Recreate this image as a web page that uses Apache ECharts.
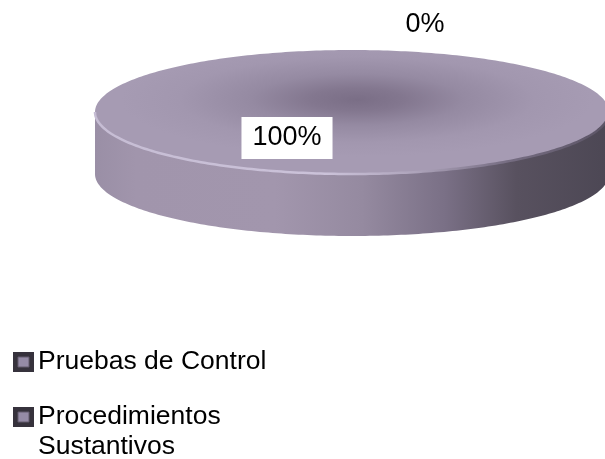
<!DOCTYPE html>
<html>
<head>
<meta charset="utf-8">
<script src="https://cdn.jsdelivr.net/npm/echarts@6/dist/echarts.min.js"></script>
<style>
  html, body { margin: 0; padding: 0; background: #ffffff; }
  #chart { width: 605px; height: 459px; }
</style>
</head>
<body>
<div id="chart"></div>
<script>
// Slice names and their values
const categories = ['Pruebas de Control', 'Procedimientos Sustantivos'];
const values = [100, 0];

// Layout of the tilted (3D-looking) pie
const PIE = { cx: 352, cy: 112, rx: 257, ry: 62, depth: 62 };
// Where each percentage label sits, relative to the pie centre
const LABEL_OFFSET = [[-65, 26], [73, -87.5]];
// Legend rows: top edge of each marker
const LEGEND_X = 13;
const LEGEND_TOP = [352, 407];
const FONT = '"Liberation Sans", Arial, sans-serif';

const total = values.reduce((a, b) => a + b, 0);

function ellipsePoint(t, dy) {
  return [PIE.cx + PIE.rx * Math.sin(t), PIE.cy - PIE.ry * Math.cos(t) + (dy || 0)];
}

function arcPoints(a0, a1, dy) {
  const pts = [];
  const n = Math.max(2, Math.ceil((a1 - a0) / (Math.PI / 180)));
  for (let k = 0; k <= n; k++) pts.push(ellipsePoint(a0 + (a1 - a0) * k / n, dy));
  return pts;
}

function renderSlice(params, api) {
  const i = params.dataIndex;
  const v = api.value(0);
  let before = 0;
  for (let k = 0; k < i; k++) before += values[k];
  const start = before / total * Math.PI * 2;
  const end = (before + v) / total * Math.PI * 2;
  const children = [];

  if (end > start) {
    // Front wall: only the part of the rim facing the viewer
    const s0 = Math.max(start, Math.PI / 2);
    const s1 = Math.min(end, Math.PI * 3 / 2);
    if (s1 > s0) {
      const topEdge = arcPoints(s0, s1, 0);
      const bottomEdge = arcPoints(s0, s1, PIE.depth).reverse();
      children.push({
        type: 'polygon',
        shape: { points: topEdge.concat(bottomEdge) },
        style: {
          fill: new echarts.graphic.LinearGradient(0, 0, 1, 0, [
            { offset: 0, color: '#9a8fa6' },
            { offset: 0.08, color: '#a195ac' },
            { offset: 0.35, color: '#a296ad' },
            { offset: 0.52, color: '#958aa0' },
            { offset: 0.68, color: '#7a7086' },
            { offset: 0.82, color: '#58515f' },
            { offset: 1, color: '#4c4754' }
          ])
        }
      });
    }

    // Top face drawn as a circle, squashed vertically so its shading is elliptical too
    const local = [[0, 0]];
    const n = Math.max(2, Math.ceil((end - start) / (Math.PI / 180)));
    for (let k = 0; k <= n; k++) {
      const t = start + (end - start) * k / n;
      local.push([PIE.rx * Math.sin(t), -PIE.rx * Math.cos(t)]);
    }
    children.push({
      type: 'polygon',
      x: PIE.cx,
      y: PIE.cy,
      scaleY: PIE.ry / PIE.rx,
      shape: { points: local },
      style: {
        fill: new echarts.graphic.RadialGradient(0.51, 0.40, 0.46, [
          { offset: 0, color: '#7a6e86' },
          { offset: 0.2, color: '#83778f' },
          { offset: 0.45, color: '#958aa2' },
          { offset: 0.75, color: '#a297af' },
          { offset: 1, color: '#a69bb3' }
        ])
      }
    });

    // Bevel highlight along the front rim of the top face
    if (s1 > s0) {
      children.push({
        type: 'polyline',
        shape: { points: arcPoints(s0, s1, 0) },
        style: {
          fill: null,
          lineWidth: 2.5,
          stroke: new echarts.graphic.LinearGradient(0, 0, 1, 0, [
            { offset: 0, color: '#c6bdd4' },
            { offset: 0.45, color: '#cbc2d9' },
            { offset: 0.62, color: '#aea4bb' },
            { offset: 0.8, color: '#766d82' },
            { offset: 1, color: '#5a5364' }
          ])
        }
      });
    }
  }

  // Percentage label
  const pct = Math.round(v / total * 100) + '%';
  children.push({
    type: 'text',
    z2: 10,
    style: {
      text: pct,
      x: PIE.cx + LABEL_OFFSET[i][0],
      y: PIE.cy + LABEL_OFFSET[i][1],
      fill: '#000000',
      fontSize: 27,
      fontFamily: FONT,
      align: 'center',
      verticalAlign: 'middle',
      lineHeight: 28,
      backgroundColor: '#ffffff',
      padding: [7, 11]
    }
  });

  return { type: 'group', children: children };
}

// Legend entries built from the category names
const legendItems = categories.map((name, i) => ({
  type: 'group',
  x: LEGEND_X,
  y: LEGEND_TOP[i],
  children: [
    { type: 'rect', shape: { x: 0, y: 0, width: 21, height: 20 },
      style: { fill: '#36323c' } },
    { type: 'rect', shape: { x: 5, y: 5, width: 11, height: 10 },
      style: { fill: '#958ba6', stroke: '#625a6c', lineWidth: 1 } },
    { type: 'text', x: 25, y: -5,
      style: {
        text: name,
        fill: '#000000',
        fontSize: 26.5,
        fontFamily: FONT,
        verticalAlign: 'top',
        lineHeight: 30,
        width: 260,
        overflow: 'break'
      } }
  ]
}));

const chart = echarts.init(document.getElementById('chart'), null, { renderer: 'canvas' });
chart.setOption({
  backgroundColor: '#ffffff',
  animation: false,
  graphic: legendItems,
  series: [{
    type: 'custom',
    coordinateSystem: 'none',
    renderItem: renderSlice,
    data: values.map((v, i) => ({ name: categories[i], value: [v] }))
  }]
});
</script>
</body>
</html>
